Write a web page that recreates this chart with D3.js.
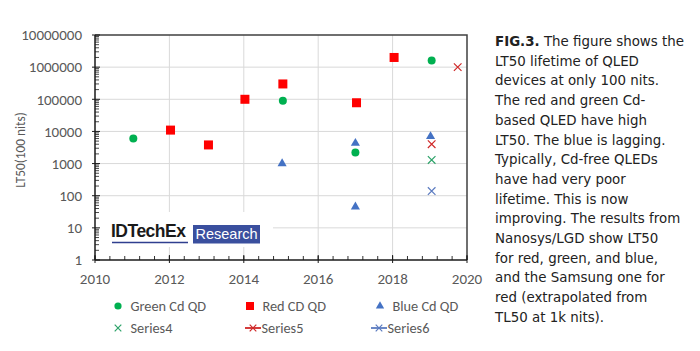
<!DOCTYPE html>
<html>
<head>
<meta charset="utf-8">
<script src="https://cdn.jsdelivr.net/npm/d3@7"></script>
<style>
  body { margin: 0; background: #fff; }
  svg { display: block; }
</style>
</head>
<body>
<div id="chart"></div>
<script>
// Data
const greenYears = [2011.03, 2015.05, 2017.0, 2019.05];
const greenLT50 = [6000, 90000, 2200, 1600000];
const redYears = [2012.03, 2013.05, 2014.03, 2015.05, 2017.03, 2018.04];
const redLT50 = [11000, 3800, 100000, 300000, 78000, 2000000];
const blueYears = [2015.03, 2017.0, 2017.0, 2019.02];
const blueLT50 = [1000, 4300, 45, 7000];
const series4Years = [2019.05];
const series4LT50 = [1300];
const series5Years = [2019.05, 2019.75];
const series5LT50 = [4000, 1000000];
const series6Years = [2019.05];
const series6LT50 = [140];

const yTicks = [1, 10, 100, 1000, 10000, 100000, 1000000, 10000000];
const xTicks = [2010, 2012, 2014, 2016, 2018, 2020];

const captionLines = [
    "The figure shows the",
    "LT50 lifetime of QLED",
    "devices at only 100 nits.",
    "The red and green Cd-",
    "based QLED have high",
    "LT50. The blue is lagging.",
    "Typically, Cd-free QLEDs",
    "have had very poor",
    "lifetime. This is now",
    "improving. The results from",
    "Nanosys/LGD show LT50",
    "for red, green, and blue,",
    "and the Samsung one for",
    "red (extrapolated from",
    "TL50 at 1k nits)."
];

const W = 700, H = 351;
const margin = { top: 35, right: 233, bottom: 91, left: 95 };
const width = W - margin.left - margin.right;   // 372
const height = H - margin.top - margin.bottom;  // 225

const axisFont = "Carlito, 'Open Sans', sans-serif";
const axisColor = "#595959";

const svg = d3.select("#chart").append("svg")
    .attr("width", W)
    .attr("height", H);

const g = svg.append("g")
    .attr("transform", `translate(${margin.left},${margin.top})`);

const x = d3.scaleLinear().domain([2010, 2020]).range([0, width]);
const y = d3.scaleLog().domain([1, 10000000]).range([height, 0]);

// Grid lines
g.append("g")
    .selectAll("line")
    .data(yTicks.slice(1, -1))
    .join("line")
    .attr("x1", 0).attr("x2", width)
    .attr("y1", d => y(d)).attr("y2", d => y(d))
    .attr("stroke", "#d9d9d9").attr("stroke-width", 1);

g.append("g")
    .selectAll("line")
    .data(xTicks.slice(1, -1))
    .join("line")
    .attr("x1", d => x(d)).attr("x2", d => x(d))
    .attr("y1", 0).attr("y2", height)
    .attr("stroke", "#d9d9d9").attr("stroke-width", 1);

// Watermark (white background hides grid behind it)
const wm = g.append("g");
wm.append("rect")
    .attr("x", 2).attr("y", 177)
    .attr("width", 176).attr("height", 35)
    .attr("fill", "#fff");
wm.append("text")
    .attr("x", 16).attr("y", 202)
    .attr("font-family", "'Liberation Sans', Arial, sans-serif")
    .attr("font-size", 17.5)
    .attr("font-weight", "bold")
    .attr("letter-spacing", -0.5)
    .attr("fill", "#1a1a1a")
    .text("IDTechEx");
wm.append("line")
    .attr("x1", 17).attr("x2", 93)
    .attr("y1", 207.5).attr("y2", 207.5)
    .attr("stroke", "#2f3f8f").attr("stroke-width", 1.3);
wm.append("rect")
    .attr("x", 98).attr("y", 190)
    .attr("width", 67).attr("height", 18.5)
    .attr("fill", "#3a4f9e");
wm.append("text")
    .attr("x", 131.5).attr("y", 204)
    .attr("text-anchor", "middle")
    .attr("font-family", "'Liberation Sans', Arial, sans-serif")
    .attr("font-size", 14.5)
    .attr("fill", "#fff")
    .text("Research");

// Frame (top and right)
g.append("path")
    .attr("d", `M0,0H${width}V${height}`)
    .attr("fill", "none")
    .attr("stroke", "#404040")
    .attr("stroke-width", 1.5);

// Y axis with log minor ticks
const yMinor = [];
for (let e = 0; e < 7; e++) {
    for (let k = 2; k <= 9; k++) yMinor.push(k * Math.pow(10, e));
}
const yAxis = g.append("g");
yAxis.append("line")
    .attr("x1", 0).attr("x2", 0).attr("y1", 0).attr("y2", height)
    .attr("stroke", "#1a1a1a").attr("stroke-width", 1.5);
yAxis.selectAll(".ymin")
    .data(yMinor)
    .join("line")
    .attr("class", "ymin")
    .attr("x1", 0).attr("x2", 4)
    .attr("y1", d => y(d)).attr("y2", d => y(d))
    .attr("stroke", "#1a1a1a").attr("stroke-width", 0.8);
yAxis.selectAll(".ymaj")
    .data(yTicks)
    .join("line")
    .attr("class", "ymaj")
    .attr("x1", -3).attr("x2", 5)
    .attr("y1", d => y(d)).attr("y2", d => y(d))
    .attr("stroke", "#1a1a1a").attr("stroke-width", 1);
yAxis.selectAll("text")
    .data(yTicks)
    .join("text")
    .attr("x", -13)
    .attr("y", d => y(d))
    .attr("dy", "0.35em")
    .attr("text-anchor", "end")
    .attr("font-family", axisFont)
    .attr("font-size", 15)
    .attr("fill", axisColor)
    .text(d => d3.format("d")(d));

// X axis
const xMinor = d3.range(0, 26).map(i => 2010 + i * 0.4);
const xAxis = g.append("g").attr("transform", `translate(0,${height})`);
xAxis.append("line")
    .attr("x1", 0).attr("x2", width)
    .attr("stroke", "#1a1a1a").attr("stroke-width", 1.5);
xAxis.selectAll(".xmin")
    .data(xMinor)
    .join("line")
    .attr("class", "xmin")
    .attr("x1", d => x(d)).attr("x2", d => x(d))
    .attr("y1", 0).attr("y2", -4)
    .attr("stroke", "#1a1a1a").attr("stroke-width", 0.9);
xAxis.selectAll(".xmaj")
    .data(xTicks)
    .join("line")
    .attr("class", "xmaj")
    .attr("x1", d => x(d)).attr("x2", d => x(d))
    .attr("y1", 3).attr("y2", -5)
    .attr("stroke", "#1a1a1a").attr("stroke-width", 1);
xAxis.selectAll("text")
    .data(xTicks)
    .join("text")
    .attr("x", d => x(d))
    .attr("y", 24)
    .attr("text-anchor", "middle")
    .attr("font-family", axisFont)
    .attr("font-size", 15)
    .attr("fill", axisColor)
    .text(d => d);

// Y axis title
svg.append("text")
    .attr("transform", `translate(25,150) rotate(-90)`)
    .attr("text-anchor", "middle")
    .attr("font-family", axisFont)
    .attr("font-size", 13.3)
    .attr("fill", axisColor)
    .text("LT50(100 nits)");

// Marks
const zip = (xs, ys) => xs.map((d, i) => ({ year: d, value: ys[i] }));

const green = "#00b050";
const red = "#ff0000";
const blue = "#4472c4";

g.selectAll(".green")
    .data(zip(greenYears, greenLT50))
    .join("circle")
    .attr("class", "green")
    .attr("cx", d => x(d.year)).attr("cy", d => y(d.value))
    .attr("r", 4)
    .attr("fill", green);

g.selectAll(".red")
    .data(zip(redYears, redLT50))
    .join("rect")
    .attr("class", "red")
    .attr("x", d => x(d.year) - 4.5).attr("y", d => y(d.value) - 4.5)
    .attr("width", 9).attr("height", 9)
    .attr("fill", red);

const tri = d3.symbol().type(d3.symbolTriangle).size(36);
g.selectAll(".blue")
    .data(zip(blueYears, blueLT50))
    .join("path")
    .attr("class", "blue")
    .attr("transform", d => `translate(${x(d.year)},${y(d.value)})`)
    .attr("d", tri)
    .attr("fill", blue);

const cross = (sel, color) => sel
    .attr("d", "M-3.8,-3.8L3.8,3.8M-3.8,3.8L3.8,-3.8")
    .attr("fill", "none")
    .attr("stroke", color)
    .attr("stroke-width", 1.2);

cross(g.selectAll(".s4")
    .data(zip(series4Years, series4LT50))
    .join("path")
    .attr("class", "s4")
    .attr("transform", d => `translate(${x(d.year)},${y(d.value)})`), "#2ea36a");

cross(g.selectAll(".s5")
    .data(zip(series5Years, series5LT50))
    .join("path")
    .attr("class", "s5")
    .attr("transform", d => `translate(${x(d.year)},${y(d.value)})`), "#d02828");

cross(g.selectAll(".s6")
    .data(zip(series6Years, series6LT50))
    .join("path")
    .attr("class", "s6")
    .attr("transform", d => `translate(${x(d.year)},${y(d.value)})`), "#5b7bc0");

// Legend
const legend = svg.append("g");
const legItems = [
    { label: "Green Cd QD", type: "circle", color: green, lx: 118, ly: 306 },
    { label: "Red CD QD", type: "square", color: red, lx: 250, ly: 306 },
    { label: "Blue Cd QD", type: "triangle", color: blue, lx: 380, ly: 306 },
    { label: "Series4", type: "cross", color: "#2ea36a", lx: 118, ly: 328 },
    { label: "Series5", type: "linecross", color: "#d02828", lx: 253, ly: 328 },
    { label: "Series6", type: "linecross", color: "#5b7bc0", lx: 379, ly: 328 }
];
legItems.forEach(it => {
    const lg = legend.append("g").attr("transform", `translate(${it.lx},${it.ly})`);
    if (it.type === "circle") {
        lg.append("circle").attr("r", 3.6).attr("fill", it.color);
    } else if (it.type === "square") {
        lg.append("rect").attr("x", -4).attr("y", -4).attr("width", 8).attr("height", 8).attr("fill", it.color);
    } else if (it.type === "triangle") {
        lg.append("path").attr("d", d3.symbol().type(d3.symbolTriangle).size(30)).attr("fill", it.color);
    } else if (it.type === "cross") {
        cross(lg.append("path"), it.color).attr("d", "M-3.3,-3.3L3.3,3.3M-3.3,3.3L3.3,-3.3");
    } else {
        lg.append("line").attr("x1", -8).attr("x2", 8).attr("stroke", it.color).attr("stroke-width", 1.8);
        cross(lg.append("path"), it.color).attr("d", "M-3.3,-3.3L3.3,3.3M-3.3,3.3L3.3,-3.3");
    }
    lg.append("text")
        .attr("x", it.type === "linecross" ? 8.5 : 12.5)
        .attr("dy", "0.35em")
        .attr("font-family", axisFont)
        .attr("font-size", 14.3)
        .attr("fill", axisColor)
        .text(it.label);
});

// Caption on the right
const capFont = "'URW Gothic', 'Century Gothic', 'DejaVu Sans', sans-serif";
const cap = svg.append("g");
captionLines.forEach((line, i) => {
    const t = cap.append("text")
        .attr("x", 495)
        .attr("y", 46 + i * 19.7)
        .attr("font-family", capFont)
        .attr("font-size", 13.4)
        .attr("fill", "#222");
    if (i === 0) {
        t.append("tspan").attr("font-weight", "bold").text("FIG.3.");
        t.append("tspan").text(" " + line);
    } else {
        t.text(line);
    }
});
</script>
</body>
</html>
